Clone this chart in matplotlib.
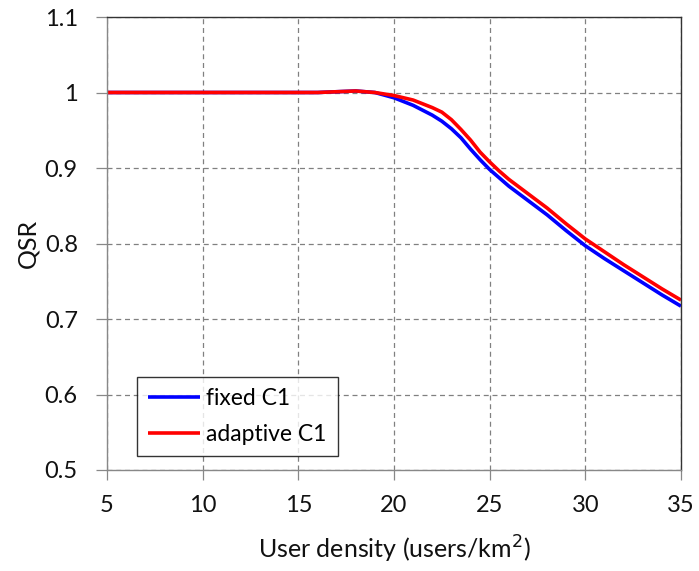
import matplotlib
matplotlib.use("Agg")
import matplotlib.pyplot as plt

density = [5, 10, 15, 16, 17, 18, 19, 20, 21, 22, 22.5, 23, 23.5, 24, 24.5, 25, 25.5, 26, 27, 28, 29,
           30, 31, 32, 33, 34, 35]
qsr_fixed = [1.0, 1.0, 1.0, 1.0, 1.001, 1.002, 1.000, 0.993, 0.983, 0.970, 0.962, 0.952, 0.940, 0.925,
             0.911, 0.898, 0.887, 0.876, 0.857, 0.838, 0.817, 0.797, 0.780, 0.764, 0.748, 0.732, 0.717]
qsr_adaptive = [1.0, 1.0, 1.0, 1.0, 1.001, 1.002, 1.000, 0.996, 0.990, 0.980, 0.974, 0.964, 0.951, 0.937,
                0.921, 0.908, 0.896, 0.885, 0.866, 0.847, 0.826, 0.806, 0.789, 0.772, 0.756, 0.740, 0.725]
xticks = [5, 10, 15, 20, 25, 30, 35]
yticks = [0.5, 0.6, 0.7, 0.8, 0.9, 1.0, 1.1]
ytick_labels = ["0.5", "0.6", "0.7", "0.8", "0.9", "1", "1.1"]

plt.rcParams['font.family'] = ['Lato', 'DejaVu Sans']

fig = plt.figure(figsize=(6.99, 5.71), dpi=100)
ax = fig.add_axes([107/699, 1-470/571, (681-107)/699, (470-17)/571])

ax.plot(density, qsr_fixed, color='#0000ff', lw=2.6, label='fixed C1',
        solid_joinstyle='round', solid_capstyle='butt')
ax.plot(density, qsr_adaptive, color='#ff0000', lw=2.6, label='adaptive C1',
        solid_joinstyle='round', solid_capstyle='butt')

ax.set_xlim(5, 35)
ax.set_ylim(0.5, 1.1)
ax.set_xticks(xticks)
ax.set_yticks(yticks)
ax.set_yticklabels(ytick_labels)
ax.grid(True, ls=(0, (4, 3)), color='#808080', lw=0.9)
ax.tick_params(axis='both', direction='out', width=0.9, color='#888888',
               labelsize=17, labelcolor='#111111')
ax.tick_params(axis='y', length=8, pad=13)
ax.tick_params(axis='x', length=7, pad=11)
for s in ['left', 'bottom']:
    ax.spines[s].set_color('#888888')
    ax.spines[s].set_linewidth(1.0)
for s in ['top', 'right']:
    ax.spines[s].set_color('#333333')
    ax.spines[s].set_linewidth(1.0)

ax.set_xlabel('User density (users/km$^2$)', fontsize=18, color='#111111', labelpad=13)
ax.set_ylabel('QSR', fontsize=18, color='#111111', labelpad=4)

leg = ax.legend(loc='lower left', bbox_to_anchor=((137-107)/574, (470-456)/453),
                fontsize=16.5, frameon=True, fancybox=False, edgecolor='black',
                handlelength=2.25, borderpad=0.5, labelspacing=0.62, handletextpad=0.25,
                borderaxespad=0)
leg.get_frame().set_linewidth(1.0)

fig.savefig('out.png', dpi=100)
